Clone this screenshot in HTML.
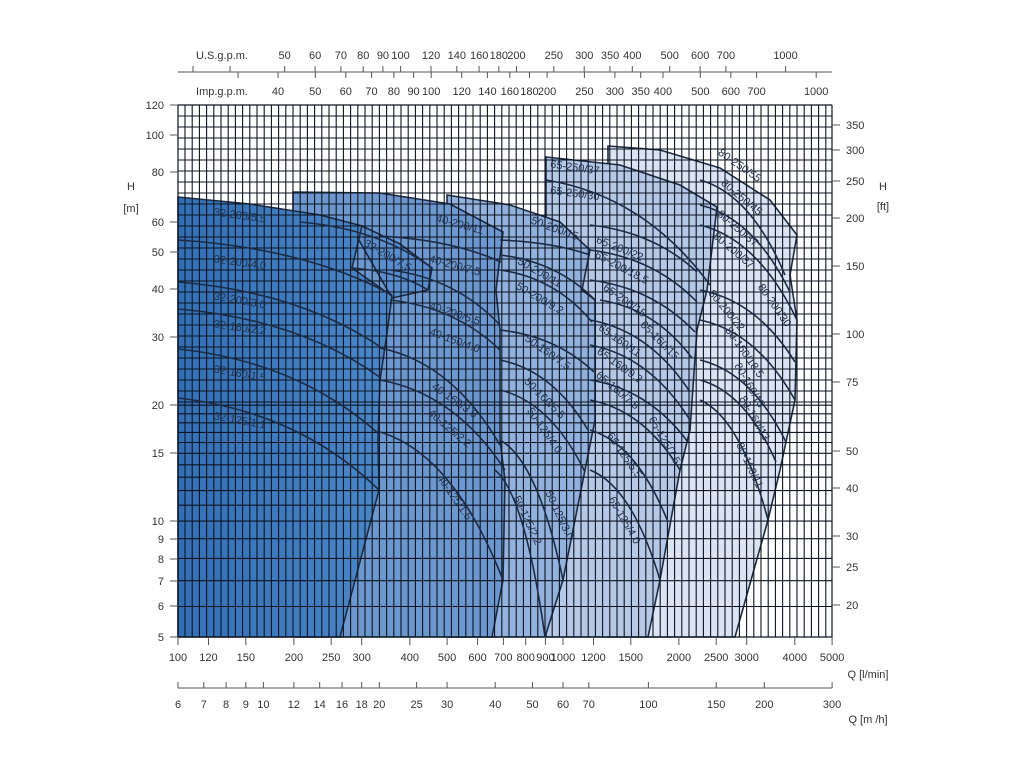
<!DOCTYPE html>
<html><head><meta charset="utf-8"><style>
html,body{margin:0;padding:0;background:#fff;width:1024px;height:768px;overflow:hidden}
svg{display:block}
text{font-family:"Liberation Sans",sans-serif;}
</style></head><body>
<svg id="s" width="1024" height="768" viewBox="0 0 1024 768" xmlns="http://www.w3.org/2000/svg">
<defs>
<linearGradient id="g1" x1="0" x2="1" y1="0" y2="0"><stop offset="0" stop-color="#326fb5"/><stop offset="1" stop-color="#4b87c8"/></linearGradient>
</defs>
<g id="fills"></g><g id="grid"></g><g id="curves"></g><g id="labels"></g><g id="axes"></g>
</svg>
<script>
var NS="http://www.w3.org/2000/svg";
function el(p,t,a,txt){var e=document.createElementNS(NS,t);for(var k in a)e.setAttribute(k,a[k]);if(txt!==undefined)e.textContent=txt;document.getElementById(p).appendChild(e);return e;}
function X(q){return 178+385*Math.log10(q/100);}
function Y(h){return 637-385*Math.log10(h/5);}
function poly(pts){return pts.map(function(p){return p[0]+","+p[1]}).join(" ");}
var R5=[[608,146],[660,150],[720,168],[770,200],[797,235],[790,275],[797,320],[795,400],[780,470],[768,520],[735,637],[608,637]];
var R4=[[546,157],[620,165],[680,185],[717,207],[707,290],[697,330],[690,430],[680,470],[660,580],[648,637],[546,637]];
var R3=[[447,195],[510,205],[560,222],[590,250],[582,290],[595,300],[595,420],[585,470],[563,580],[545,637],[447,637]];
var R2=[[293,192],[380,193],[450,204],[503,232],[496,290],[500,330],[500,440],[505,480],[503,580],[492,637],[293,637]];
var R1b=[[352,228],[362,226],[400,244],[432,268],[428,290],[392,298]];
var R1=[[178,197],[250,204],[320,215],[362,226],[352,268],[392,296],[386,340],[380,380],[378,440],[379,490],[340,637],[178,637]];
[[R5,"#dbe4f3"],[R4,"#b5c9e7"],[R3,"#93b1dd"],[R2,"#6d97cf"],[R1b,"#5a8dcc"],[R1,"url(#g1)"]].forEach(function(r){
 el("fills","polygon",{points:poly(r[0]),fill:r[1],stroke:"#1c2b44","stroke-width":"1.6"});});
var d="",x,y,h;
for(x=185;x<832;x+=7.2)d+="M"+x.toFixed(1)+" 105V637";
for(y=116;y<405;y+=11)d+="M178 "+y.toFixed(1)+"H832";
for(h=5;h<=20;h+=1){y=Y(h).toFixed(1);d+="M178 "+y+"H832";}
el("grid","path",{d:d,stroke:"#0d1420","stroke-width":"1.1",fill:"none"});
el("grid","path",{d:"M178 105V637M832 105V637M178 105H832M178 637H832",stroke:"#0d1420","stroke-width":"1.2",fill:"none"});
var C=[
[[178,240],[392,295]],[[178,282],[385,350]],[[178,309],[381,378]],[[178,349],[380,435]],[[178,398],[379,490]],[[300,222],[432,268]],[[352,268],[428,290]],
[[380,236],[501,262]],[[390,270],[500,325]],[[390,300],[500,350]],[[380,348],[500,445]],[[380,380],[505,470]],[[380,432],[503,580]],
[[500,240],[590,255]],[[500,255],[595,300]],[[500,270],[592,322]],[[500,330],[594,372]],[[500,360],[588,430]],[[500,390],[585,472]],[[500,440],[563,580]],[[495,470],[545,637]],
[[546,180],[710,285]],[[590,225],[697,272]],[[590,250],[697,302]],[[590,280],[695,332]],[[600,300],[692,358]],[[590,320],[690,392]],[[590,345],[690,420]],[[590,380],[688,442]],[[590,400],[680,470]],[[590,430],[668,522]],[[590,470],[660,580]],
[[700,180],[785,275]],[[700,205],[790,292]],[[700,225],[797,320]],[[700,290],[795,362]],[[700,320],[795,400]],[[700,360],[786,442]],[[700,380],[776,462]],[[700,400],[768,520]]];
C.forEach(function(c){var a=c[0],b=c[1];var cx=a[0]+0.6*(b[0]-a[0]),cy=a[1]+0.15*(b[1]-a[1]);
 el("curves","path",{d:"M"+a[0]+" "+a[1]+"Q"+cx+" "+cy+" "+b[0]+" "+b[1],stroke:"#1c2b44","stroke-width":"1.6",fill:"none"});});
var L=[["32-200/5.5",240,215,8],["32-200/7.5",388,255,30],["32-200/4.0",240,262,8],["32-200/3.0",240,300,10],["32-160/2.2",240,327,8],["32-160/1.5",240,373,10],["32-125/1.1",240,420,10],
["40-200/11",460,224,15],["40-200/7.5",455,265,15],["40-200/5.5",455,313,18],["40-160/4.0",455,340,20],["40-160/3.0",455,400,35],["40-125/2.2",450,428,40],["40-125/1.5",455,497,55],
["50-200/15",555,228,20],["50-200/11",540,272,30],["50-200/9.2",540,298,30],["50-160/7.5",548,352,35],["50-160/5.5",545,398,45],["50-125/4.0",545,430,55],["50-125/3.0",560,515,65],["50-125/2.2",528,520,65],
["65-250/37",575,167,8],["65-250/30",575,193,8],["65-200/22",620,248,22],["65-200/18.5",622,267,28],["65-200/15",625,300,35],["65-160/15",660,340,45],["65-160/11",620,340,35],["65-160/9.2",620,365,35],["65-160/7.5",618,390,40],["65-125/7.5",665,440,60],["65-125/5.5",625,455,55],["65-125/4.0",625,520,60],
["80-250/55",740,165,35],["80-250/45",742,197,40],["80-250/37",738,228,40],["80-200/37",734,250,40],["80-200/30",775,305,55],["80-200/22",727,310,50],["80-160/18.5",745,352,55],["80-160/15",750,385,60],["80-160/13",755,418,60],["80-160/11",750,465,65]];
L.forEach(function(l){el("labels","text",{x:l[1],y:l[2]+4,"font-size":"11","text-anchor":"middle",fill:"#22324c",transform:"rotate("+l[3]+" "+l[1]+" "+l[2]+")"},l[0]);});
function T(x,y,s,anc,fs){el("axes","text",{x:x,y:y,"font-size":fs||11,"text-anchor":anc||"middle",fill:"#333"},s);}
var ad="";
[[120,105],[100,135],[80,172],[60,222],[50,252],[40,289],[30,337],[20,405],[15,453],[10,521],[9,539],[8,559],[7,581],[6,606],[5,637]].forEach(function(p){T(164,p[1]+4,p[0],"end");ad+="M170 "+p[1]+"H178";});
[[350,125],[300,150],[250,181],[200,218],[150,266],[100,334],[75,382],[50,451],[40,488],[30,536],[25,567],[20,605]].forEach(function(p){T(846,p[1]+4,p[0],"start");ad+="M832 "+p[1]+"H840";});
T(131,190,"H");T(131,212,"[m]");T(883,190,"H");T(883,210,"[ft]");
[100,120,150,200,250,300,400,500,600,700,800,900,1000,1200,1500,2000,2500,3000,4000,5000].forEach(function(v){var x=X(v);T(x,661,v);ad+="M"+x.toFixed(1)+" 637V645";});
T(868,678,"Q [l/min]");
ad+="M178 688H832";
[6,7,8,9,10,12,14,16,18,20,25,30,40,50,60,70,100,150,200,300].forEach(function(v){var x=178+385*Math.log10(v/6);T(x,708,v);ad+="M"+x.toFixed(1)+" 682V688";});
T(868,723,"Q [m  /h]");
ad+="M178 72H832";
[50,60,70,80,90,100,120,140,160,180,200,250,300,350,400,500,600,700,1000].forEach(function(v){var x=X(v*3.785);T(x,59,v);ad+="M"+x.toFixed(1)+" 66V72";});
[40,50,60,70,80,90,100,120,140,160,180,200,250,300,350,400,500,600,700,1000].forEach(function(v){var x=X(v*4.546);T(x,95,v);ad+="M"+x.toFixed(1)+" 72V78";});
ad+="M193 66V72M238 72V78M230 66V72";
T(222,59,"U.S.g.p.m.");T(222,95,"Imp.g.p.m.");
el("axes","path",{d:ad,stroke:"#555","stroke-width":"1",fill:"none"});
</script>
</body></html>
